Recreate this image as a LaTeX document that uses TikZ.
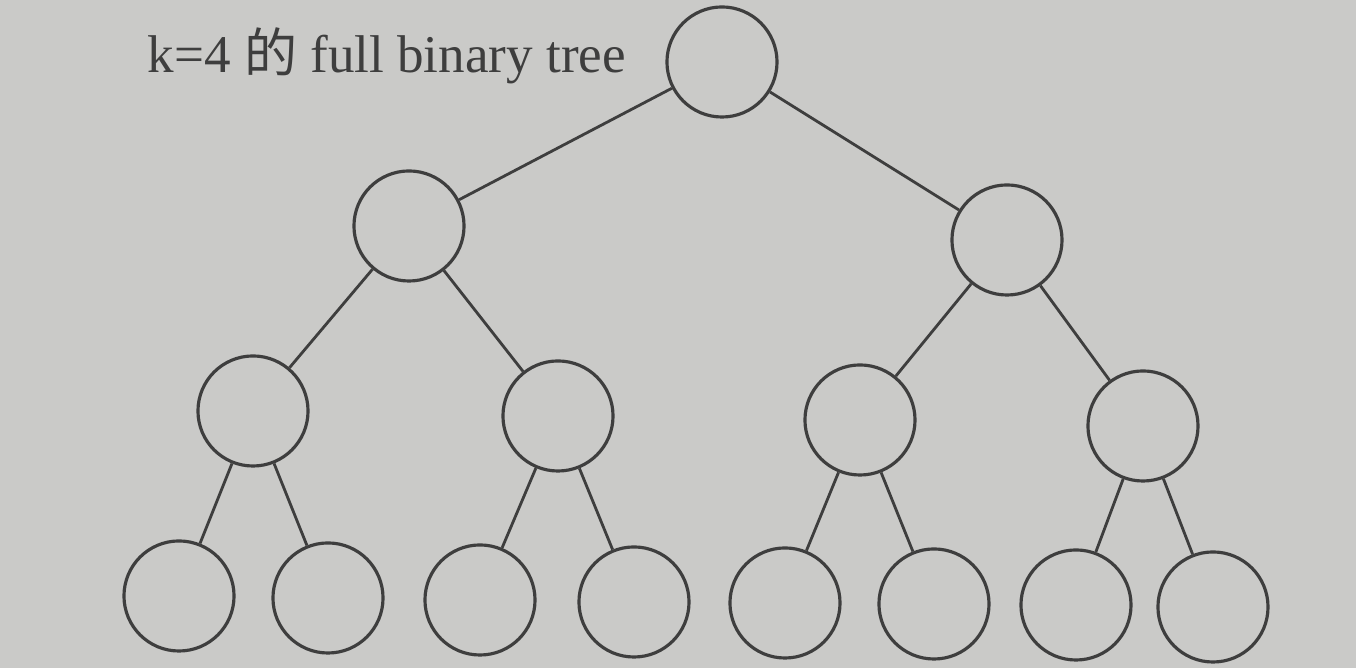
\documentclass[tikz,border=0pt]{standalone}
\usepackage{fontspec}
\setmainfont{Liberation Serif}
\newfontfamily\cjk{Noto Sans CJK TC}
\usepackage{tikz}
\usetikzlibrary{positioning}

\definecolor{paper}{RGB}{202,202,200}
\definecolor{ink}{RGB}{62,62,62}

\tikzset{
  vertex/.style={circle,draw=ink,line width=0.9pt,minimum size=1.1cm,inner sep=0pt},
  edge/.style={draw=ink,line width=0.8pt}
}

\begin{document}
\begin{tikzpicture}[x=0.01cm,y=-0.01cm]
		\fill[paper] (0,0) rectangle (1356,668);
		\useasboundingbox (0,0) rectangle (1356,668);
		
		\node[anchor=base west,inner sep=0pt,text=ink,font=\fontsize{15.1}{18}\selectfont] (title) at (147,73) {k=4 {\cjk 的} full binary tree};
		
		% level 1
		\node[vertex] (r) at (722,62) {};
		% level 2
		\node[vertex] (a) at (409,226) {};
		\node[vertex] (b) at (1007,240) {};
		% level 3
		\node[vertex] (aa) at (253,411) {};
		\node[vertex] (ab) at (558,416) {};
		\node[vertex] (ba) at (860,420) {};
		\node[vertex] (bb) at (1143,426) {};
		% level 4
		\node[vertex] (aaa) at (179,596) {};
		\node[vertex] (aab) at (328,598) {};
		\node[vertex] (aba) at (480,600) {};
		\node[vertex] (abb) at (634,602) {};
		\node[vertex] (baa) at (785,603) {};
		\node[vertex] (bab) at (934,604) {};
		\node[vertex] (bba) at (1076,605) {};
		\node[vertex] (bbb) at (1213,607) {};
		
		\draw[edge] (r)--(a);
		\draw[edge] (r)--(b);
		\draw[edge] (a)--(aa);
		\draw[edge] (a)--(ab);
		\draw[edge] (b)--(ba);
		\draw[edge] (b)--(bb);
		\draw[edge] (aa)--(aaa);
		\draw[edge] (aa)--(aab);
		\draw[edge] (ab)--(aba);
		\draw[edge] (ab)--(abb);
		\draw[edge] (ba)--(baa);
		\draw[edge] (ba)--(bab);
		\draw[edge] (bb)--(bba);
		\draw[edge] (bb)--(bbb);
	\end{tikzpicture}
\end{document}
